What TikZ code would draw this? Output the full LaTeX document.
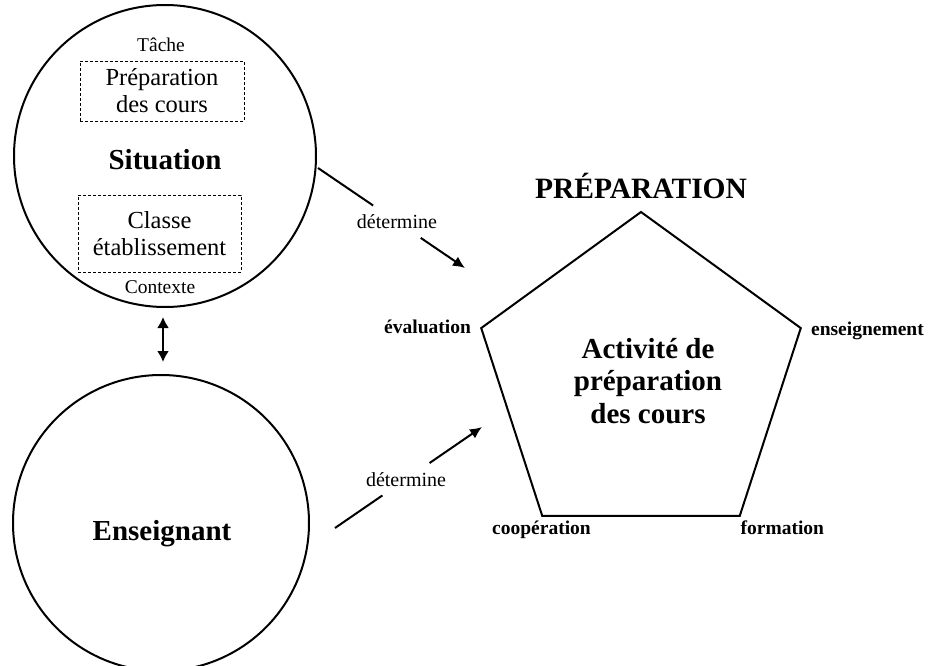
\documentclass[tikz,border=0pt]{standalone}
\usepackage{fontspec}
\setmainfont{Liberation Serif}
\usetikzlibrary{shapes.geometric,arrows.meta,calc}

\begin{document}
\begin{tikzpicture}[x=1pt,y=-1pt,
		rond/.style={circle,draw,line width=2pt,inner sep=0pt},
		cadre/.style={draw,dash pattern=on 3pt off 2pt,line width=0.8pt,align=center,inner sep=2pt,font=\fontsize{24.5}{27}\selectfont},
		petit/.style={font=\fontsize{19.5}{22}\selectfont,inner sep=0pt},
		gras/.style={font=\bfseries\fontsize{29}{32.5}\selectfont,inner sep=0pt,align=center},
		sommet/.style={font=\bfseries\fontsize{19.5}{22}\selectfont,inner sep=0pt},
		verbe/.style={font=\fontsize{20}{24}\selectfont,inner xsep=2pt,inner ysep=0pt,minimum height=32pt},
		trait/.style={line width=2pt},
		fleche/.style={-{Latex[length=12pt,width=11pt]},line width=2pt}]
	\useasboundingbox (0,0) rectangle (930,666);
	% situation
	\node[rond,minimum size=302pt] (sit) at (165,156) {};
	\node[petit,anchor=base] (tache) at (161,52) {Tâche};
	\node[cadre,minimum width=164pt,minimum height=60pt] (prepcours) at (162,91) {Préparation\\des cours};
	\node[gras,anchor=base] (situation) at (165,170) {Situation};
	\node[cadre,minimum width=163pt,minimum height=77pt] (classe) at (159.5,233.5) {Classe\\établissement};
	\node[petit,anchor=base] (contexte) at (160,293) {Contexte};
	% enseignant
	\node[rond,minimum size=296pt] (ens) at (161,523) {};
	\node[gras,anchor=base] (enseignant) at (162,540) {Enseignant};
	\draw[{Latex[length=11pt,width=12pt]}-{Latex[length=11pt,width=12pt]},line width=2pt,shorten <=9pt,shorten >=12pt]
		([xshift=-2pt]sit.south) -- ([xshift=2pt]ens.north);
	% preparation
	\node[regular polygon,regular polygon sides=5,draw,line width=2pt,minimum size=336pt,inner sep=0pt] (pent) at (641,380) {};
	\node[gras] (activite) at (648,381) {Activité de\\préparation\\des cours};
	\node[gras,font=\bfseries\fontsize{29.5}{32}\selectfont,anchor=base] (prep) at ([yshift=12pt]pent.corner 1) {PRÉPARATION};
	\node[sommet,anchor=base east] (eval) at ([xshift=-9pt,yshift=-6pt]pent.corner 2) {évaluation};
	\node[sommet,anchor=base] (coop) at ([yshift=-18pt]pent.corner 3) {coopération};
	\node[sommet,anchor=base west] (form) at ([yshift=-18pt]pent.corner 4) {formation};
	\node[sommet,anchor=base west] (ensg) at ([xshift=9pt,yshift=-8pt]pent.corner 5) {enseignement};
	% determine
	\coordinate (dep1) at (318,168);
	\coordinate (fin1) at (465,268);
	\coordinate (dep2) at (335,528);
	\coordinate (fin2) at (482,427);
	\node[verbe] (det1) at ($(dep1)!0.537!(fin1)$) {détermine};
	\node[verbe] (det2) at ($(dep2)!0.483!(fin2)$) {détermine};
	\draw[trait] (dep1) -- (det1);
	\draw[fleche] (det1) -- (fin1);
	\draw[trait] (dep2) -- (det2);
	\draw[fleche] (det2) -- (fin2);
\end{tikzpicture}
\end{document}
